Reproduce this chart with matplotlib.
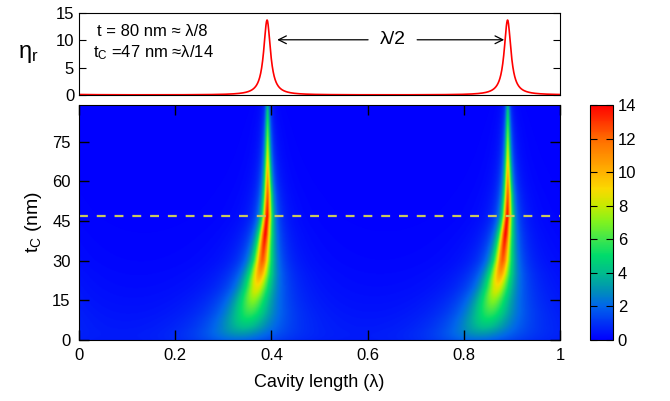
import numpy as np
import matplotlib
matplotlib.use("Agg")
import matplotlib.pyplot as plt
from matplotlib.colors import LinearSegmentedColormap

plt.rcParams['font.family'] = ['Liberation Sans', 'DejaVu Sans']
plt.rcParams['mathtext.fontset'] = 'custom'
plt.rcParams['mathtext.rm'] = 'Liberation Sans'
plt.rcParams['mathtext.it'] = 'Liberation Sans'

# ---- data ----
tc_levels = [0, 5, 10, 15, 20, 25, 30, 40, 47, 55, 60, 70, 80, 89]          # nm
ridge_pos = [0.33, 0.345, 0.355, 0.362, 0.370, 0.376, 0.381, 0.387, 0.391, 0.392, 0.392, 0.392, 0.392, 0.392]
ridge_peak = [2.0, 4.0, 5.6, 7.0, 8.6, 10.5, 12.2, 13.8, 13.7, 12.2, 10.8, 8.2, 6.0, 3.8]
ridge_hwhm = [0.09, 0.06, 0.045, 0.035, 0.027, 0.021, 0.016, 0.011, 0.0085, 0.0072, 0.0065, 0.0055, 0.0048, 0.0042]
period = 0.5          # lambda/2
tc_cut = 47           # nm, dashed line
x_ticks = [0, 0.2, 0.4, 0.6, 0.8, 1.0]
x_ticklabels = ['0', '0.2', '0.4', '0.6', '0.8', '1']
y_ticks = [0, 15, 30, 45, 60, 75]
top_yticks = [0, 5, 10, 15]
cbar_ticks = [0, 2, 4, 6, 8, 10, 12, 14]

cmap_colors = [(0.0, (0, 0, 1)), (2/14, (0, 0.40, 0.92)), (3/14, (0, 0.58, 0.70)),
               (4/14, (0, 0.74, 0.55)), (5/14, (0, 0.86, 0.42)), (6/14, (0.25, 0.90, 0.30)),
               (7/14, (0.50, 0.95, 0.12)), (8/14, (0.78, 0.92, 0.0)), (9/14, (0.98, 0.85, 0.0)),
               (10/14, (1.0, 0.70, 0.0)), (12/14, (1.0, 0.42, 0.0)), (1.0, (1.0, 0.0, 0.0))]
cmap = LinearSegmentedColormap.from_list('rb', cmap_colors)


def field(x, tc):
    pos = np.interp(tc, tc_levels, ridge_pos)
    pk = np.interp(tc, tc_levels, ridge_peak)
    w = np.exp(np.interp(tc, tc_levels, np.log(ridge_hwhm)))
    out = np.zeros_like(x)
    for k in (-1, 0, 1, 2):
        out = out + pk / (1 + ((x - pos - k * period) / w) ** 2)
    return out


xg = np.linspace(0, 1, 800)
tg = np.linspace(0, 89, 300)
Z = np.array([field(xg, t) for t in tg])

W, H = 670, 401
fig = plt.figure(figsize=(W / 100, H / 100), dpi=100)

ax_top = fig.add_axes([79 / W, 1 - 95 / H, 481 / W, 82 / H])
ax = fig.add_axes([79 / W, 1 - 339.6 / H, 481 / W, 234.6 / H])
cax = fig.add_axes([590 / W, 1 - 339.6 / H, 23 / W, 234.6 / H])

# top panel
xt = np.linspace(0, 1, 2000)
ax_top.plot(xt, field(xt, tc_cut), color='red', lw=1.2)
ax_top.set_xlim(0, 1)
ax_top.set_ylim(0, 15)
ax_top.set_yticks(top_yticks)
ax_top.set_xticks(x_ticks)
ax_top.set_xticklabels([])
ax_top.tick_params(direction='in', right=True, top=True, length=5, labelsize=12)
ax_top.tick_params(axis='x', length=0)
ax_top.set_ylabel(r'$\eta_\mathrm{r}$', fontsize=17, rotation=0, labelpad=20, va='center')
ax_top.text(0.037, 11.6, 't = 80 nm ≈ λ/8', fontsize=12, va='center')
ax_top.text(0.030, 7.8, r'$\mathrm{t_C}$ =47 nm ≈λ/14', fontsize=12, va='center')
ax_top.annotate('', xy=(0.412, 10.1), xytext=(0.601, 10.1),
                arrowprops=dict(arrowstyle='->', lw=0.9, color='black', mutation_scale=14,
                                shrinkA=0, shrinkB=0))
ax_top.annotate('', xy=(0.884, 10.1), xytext=(0.703, 10.1),
                arrowprops=dict(arrowstyle='->', lw=0.9, color='black', mutation_scale=14,
                                shrinkA=0, shrinkB=0))
ax_top.text(0.652, 10.1, 'λ/2', fontsize=14, ha='center', va='center')

# heat map
im = ax.imshow(Z, extent=[0, 1, 0, 89], origin='lower', aspect='auto', cmap=cmap,
               vmin=0, vmax=14, interpolation='bilinear')
ax.axhline(tc_cut, color='#c8c860', lw=1.6, dashes=(4, 4))
ax.set_xlim(0, 1)
ax.set_ylim(0, 89)
ax.set_xticks(x_ticks)
ax.set_xticklabels(x_ticklabels)
ax.set_yticks(y_ticks)
ax.tick_params(direction='in', top=True, right=True, length=7, width=1, labelsize=12, pad=6)
ax.set_xlabel('Cavity length (λ)', fontsize=13, labelpad=8)
ax.set_ylabel(r'$\mathrm{t_C}$ (nm)', fontsize=14, labelpad=6)

cb = fig.colorbar(im, cax=cax, ticks=cbar_ticks)
cax.tick_params(direction='in', left=True, right=True, length=5, labelsize=12)

fig.savefig('out.png', dpi=100)
